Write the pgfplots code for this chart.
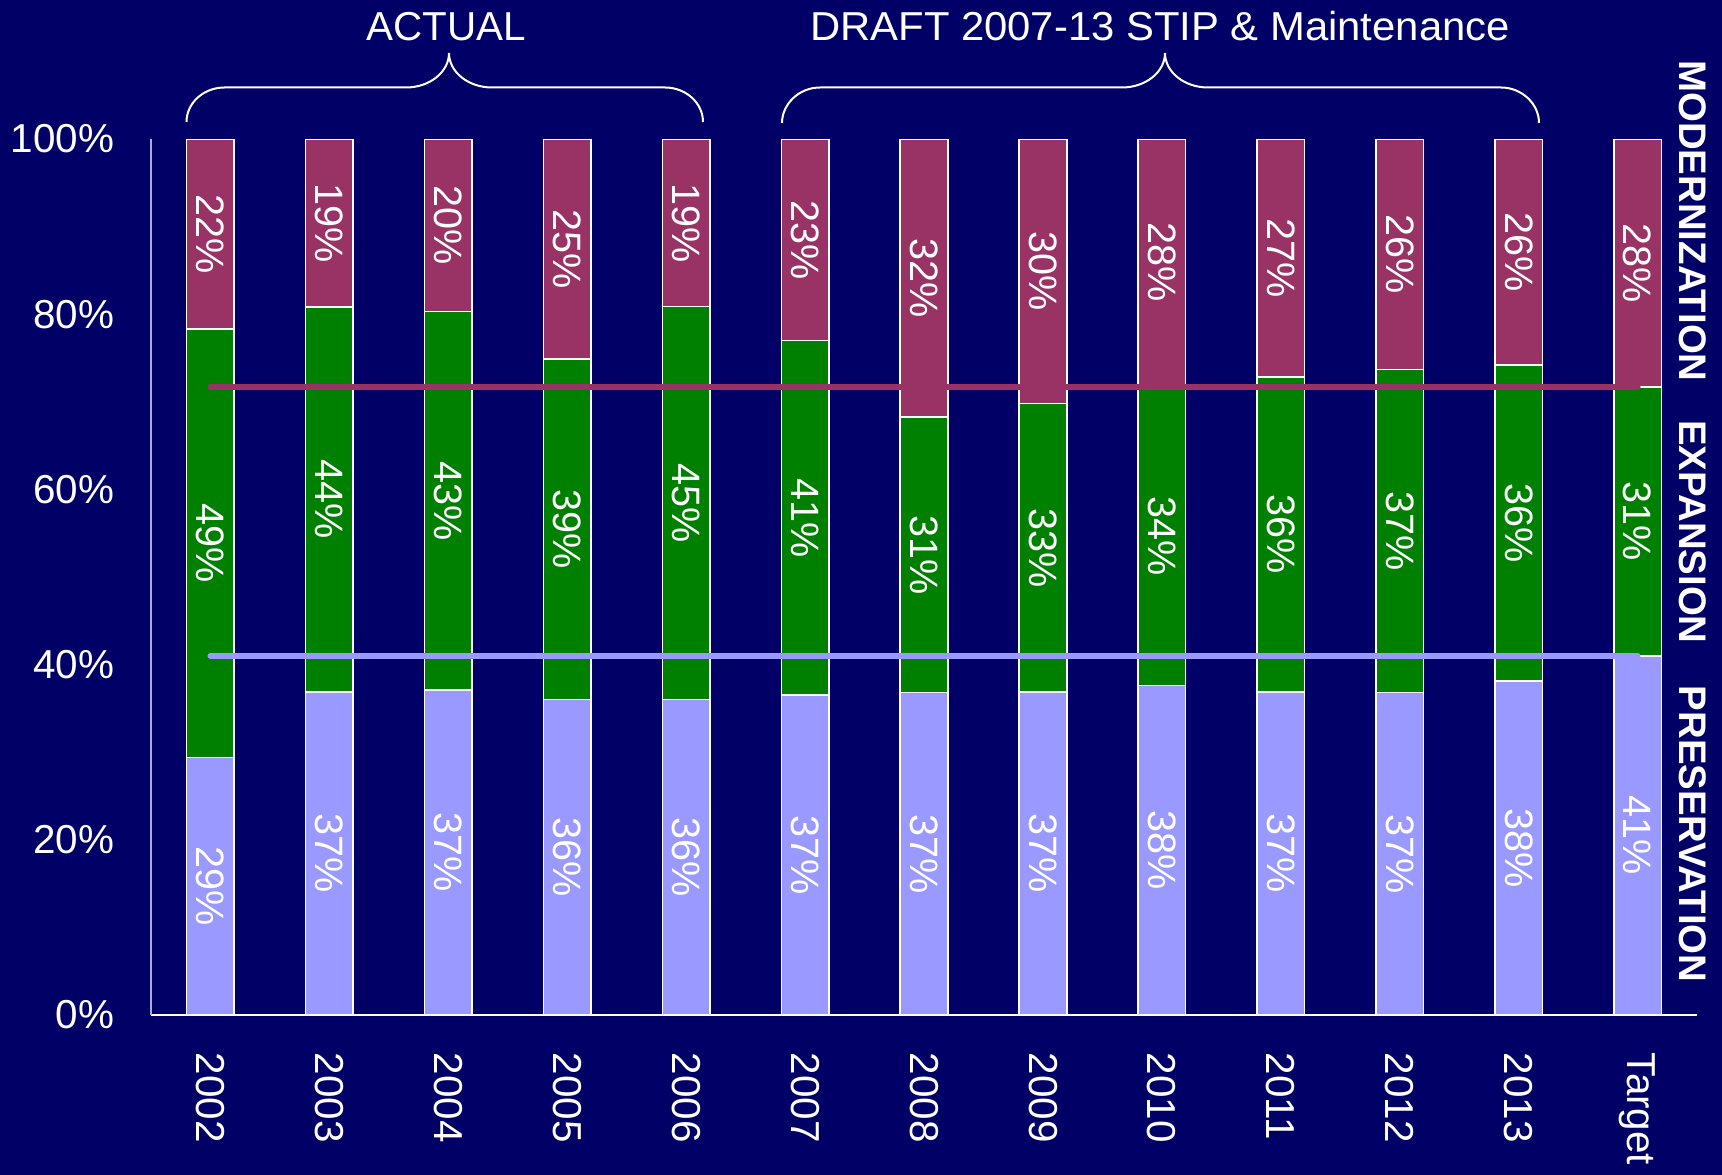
\documentclass[border=0pt]{standalone}
\usepackage{pgfplots}
\pgfplotsset{compat=1.18}
\usepackage{pgfplotstable}
\usepackage{fontspec}
\setmainfont{Liberation Sans}
\definecolor{bg}{RGB}{0,0,102}
\definecolor{presc}{RGB}{153,153,255}
\definecolor{expc}{RGB}{0,128,0}
\definecolor{modc}{RGB}{153,51,102}
\definecolor{axgray}{RGB}{170,170,210}
\newcommand\bigf{\fontsize{10.1bp}{12bp}\selectfont}
\newcommand\labf{\fontsize{9.9bp}{12bp}\selectfont}
\newcommand\sidef{\bfseries\fontsize{9.6bp}{11bp}\selectfont}

\pgfplotstableread{
x pres exp mod lp le lm
0 29.4 48.9 21.7 29 49 22
1 36.9 43.9 19.2 37 44 19
2 37.1 43.2 19.7 37 43 20
3 36.0 38.9 25.1 36 39 25
4 36.0 44.9 19.1 36 45 19
5 36.5 40.5 23.0 37 41 23
6 36.8 31.5 31.7 37 31 32
7 36.9 32.9 30.2 37 33 30
8 37.6 34.2 28.2 38 34 28
9 36.9 35.9 27.2 37 36 27
10 36.8 36.9 26.3 37 37 26
11 38.1 36.1 25.8 38 36 26
12 41.0 30.7 28.3 41 31 28
}\data

\pgfplotsset{
  barlab/.style={
    nodes near coords={\pgfplotspointmeta\%},
    point meta=explicit symbolic,
    every node near coord/.append style={rotate=-90, anchor=center, white, inner sep=0pt, font=\labf},
  },
  geom/.style={
    at={(37.75bp,-253.75bp)}, anchor=south west,
    scale only axis, width=386.5bp, height=219bp,
    xmin=-0.5, xmax=12.5, ymin=0, ymax=100,
  }
}

\begin{document}
\begin{tikzpicture}
\begin{scope}[x=0.25bp,y=-0.25bp]
\path[use as bounding box] (0,0) rectangle (1722,1175);
\fill[bg] (0,0) rectangle (1722,1175);
\end{scope}

\begin{axis}[geom,
  ybar stacked, bar width=0.4,
  axis x line*=bottom, axis y line*=left,
  x axis line style={white, line width=0.4bp, -},
  y axis line style={axgray, line width=0.4bp, -},
  major tick length=0pt,
  xtick={0,...,12},
  xticklabels={2002,2003,2004,2005,2006,2007,2008,2009,2010,2011,2012,2013,Target},
  ytick={0,20,40,60,80,100},
  yticklabels={0\%,20\%,40\%,60\%,80\%,100\%},
  xticklabel style={rotate=-90, anchor=west, inner sep=0pt, font=\bigf, text=white},
  yticklabel style={anchor=east, inner sep=0pt, font=\bigf, text=white},
  xticklabel shift=9.25bp, yticklabel shift=9bp,
]
\addplot[fill=presc, draw=white, line width=0.4bp, barlab] table[x=x, y=pres, meta=lp] {\data};
\addplot[fill=expc, draw=white, line width=0.4bp, barlab] table[x=x, y=exp, meta=le] {\data};
\addplot[fill=modc, draw=white, line width=0.4bp, barlab] table[x=x, y=mod, meta=lm] {\data};
\end{axis}

\begin{axis}[geom, hide axis]
\addplot[modc, line width=1.5bp, line cap=round] coordinates {(0,71.7) (12,71.7)};
\addplot[presc, line width=1.5bp, line cap=round] coordinates {(0,41) (12,41)};
\end{axis}

\begin{scope}[x=0.25bp,y=-0.25bp]
\draw[white, line width=0.5bp]
 (186.5,122) .. controls (186.5,103) and (203.6,87.5) .. (224.5,87.5) -- (406,87.5)
 .. controls (429.7,87.5) and (449,72) .. (449,53)
 .. controls (449,72) and (468.3,87.5) .. (492,87.5) -- (665,87.5)
 .. controls (685.9,87.5) and (703,103) .. (703,122);
\draw[white, line width=0.5bp]
 (782,123) .. controls (782,104) and (799.1,87.5) .. (820,87.5) -- (1122,87.5)
 .. controls (1145.7,87.5) and (1165,72) .. (1165,53)
 .. controls (1165,72) and (1184.3,87.5) .. (1208,87.5) -- (1501,87.5)
 .. controls (1521.9,87.5) and (1539,104) .. (1539,123);
\node[anchor=base, text=white, font=\bigf, inner sep=0pt] at (446,40.7) {ACTUAL};
\node[anchor=base, text=white, font=\bigf, inner sep=0pt] at (1160,40.7) {\scalebox{1.035}[1]{DRAFT 2007-13 STIP \& Maintenance}};
\node[rotate=-90, text=white, font=\sidef, inner sep=0pt] at (1693,221) {MODERNIZATION};
\node[rotate=-90, text=white, font=\sidef, inner sep=0pt] at (1693,532) {EXPANSION};
\node[rotate=-90, text=white, font=\sidef, inner sep=0pt] at (1693,834) {PRESERVATION};
\end{scope}
\end{tikzpicture}
\end{document}
